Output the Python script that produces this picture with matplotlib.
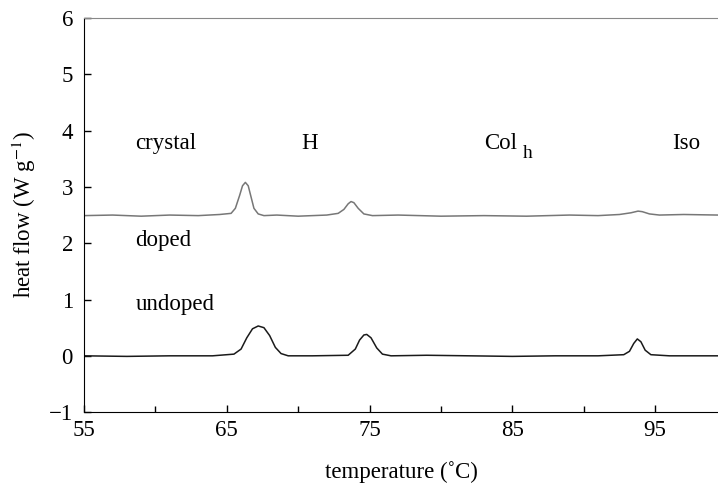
import matplotlib
matplotlib.use("Agg")
from matplotlib import pyplot as plt
from matplotlib.ticker import FixedLocator, MultipleLocator

plt.rcParams['font.family'] = ['Liberation Serif', 'DejaVu Serif']
plt.rcParams['mathtext.fontset'] = 'stix'

# doped sample (grey trace, offset by +2.5)
doped_t = [55, 57, 59, 61, 63, 64.5, 65.3, 65.6, 65.9, 66.1, 66.3, 66.5, 66.7, 66.9,
           67.2, 67.6, 68.5, 70, 72, 72.8, 73.2, 73.5, 73.7, 73.9, 74.2, 74.6, 75.2,
           77, 80, 83, 86, 89, 91, 92.5, 93.3, 93.8, 94.1, 94.6, 95.3, 97, 99.4]
doped_q = [2.49, 2.50, 2.48, 2.50, 2.49, 2.51, 2.53, 2.62, 2.85, 3.02, 3.08, 3.02, 2.82, 2.62,
           2.52, 2.49, 2.50, 2.48, 2.50, 2.53, 2.60, 2.70, 2.74, 2.72, 2.62, 2.52, 2.49,
           2.50, 2.48, 2.49, 2.48, 2.50, 2.49, 2.51, 2.54, 2.57, 2.56, 2.52, 2.50, 2.51, 2.50]

# undoped sample (black trace)
undoped_t = [55, 58, 61, 64, 65.5, 66, 66.4, 66.8, 67.2, 67.6, 68, 68.4, 68.8, 69.3,
             71, 73.5, 74, 74.3, 74.6, 74.8, 75.1, 75.5, 75.9, 76.5, 79, 82, 85, 88,
             91, 92.8, 93.2, 93.5, 93.75, 94, 94.3, 94.7, 96, 99.4]
undoped_q = [0.0, -0.01, 0.0, 0.0, 0.03, 0.12, 0.32, 0.48, 0.53, 0.50, 0.36, 0.15, 0.04, 0.0,
             0.0, 0.01, 0.12, 0.28, 0.37, 0.38, 0.32, 0.14, 0.03, 0.0, 0.01, 0.0, -0.01, 0.0,
             0.0, 0.02, 0.08, 0.22, 0.30, 0.25, 0.10, 0.02, 0.0, 0.0]

x_major = [55, 65, 75, 85, 95]
x_minor = [60, 70, 80, 90]

fig = plt.figure(figsize=(7.18, 4.86), dpi=100)
ax = fig.add_axes([0.117, 0.152, 0.883, 0.811])

ax.plot(doped_t, doped_q, color='#777777', lw=1.1)
ax.plot(undoped_t, undoped_q, color='#1a1a1a', lw=1.1)

ax.set_xlim(55, 99.4)
ax.set_ylim(-1, 6)
ax.xaxis.set_major_locator(FixedLocator(x_major))
ax.xaxis.set_minor_locator(FixedLocator(x_minor))
ax.yaxis.set_major_locator(MultipleLocator(1))
ax.tick_params(direction='in', labelsize=16.5, length=5, width=1)
ax.tick_params(which='minor', direction='in', length=4, width=1)
ax.tick_params(axis='x', pad=6)
ax.tick_params(axis='y', pad=8)
ax.spines['right'].set_visible(False)
ax.spines['top'].set_color('#888888')

# phase labels
fs = 16.5
ax.text(58.6, 3.77, 'crystal', fontsize=fs, va='center')
ax.text(70.8, 3.77, 'H', fontsize=fs, va='center', ha='center')
ax.text(83.0, 3.77, 'Col', fontsize=fs, va='center')
ax.text(85.7, 3.6, 'h', fontsize=14, va='center')
ax.text(97.2, 3.77, 'Iso', fontsize=fs, va='center', ha='center')
ax.text(58.6, 2.05, 'doped', fontsize=fs, va='center')
ax.text(58.6, 0.92, 'undoped', fontsize=fs, va='center')

ax.set_xlabel('temperature (˚C)', fontsize=16.5, labelpad=14)
ax.set_ylabel('heat flow (W g$^{-1}$)', fontsize=16.5, labelpad=8)

fig.savefig('out.png', dpi=100)
